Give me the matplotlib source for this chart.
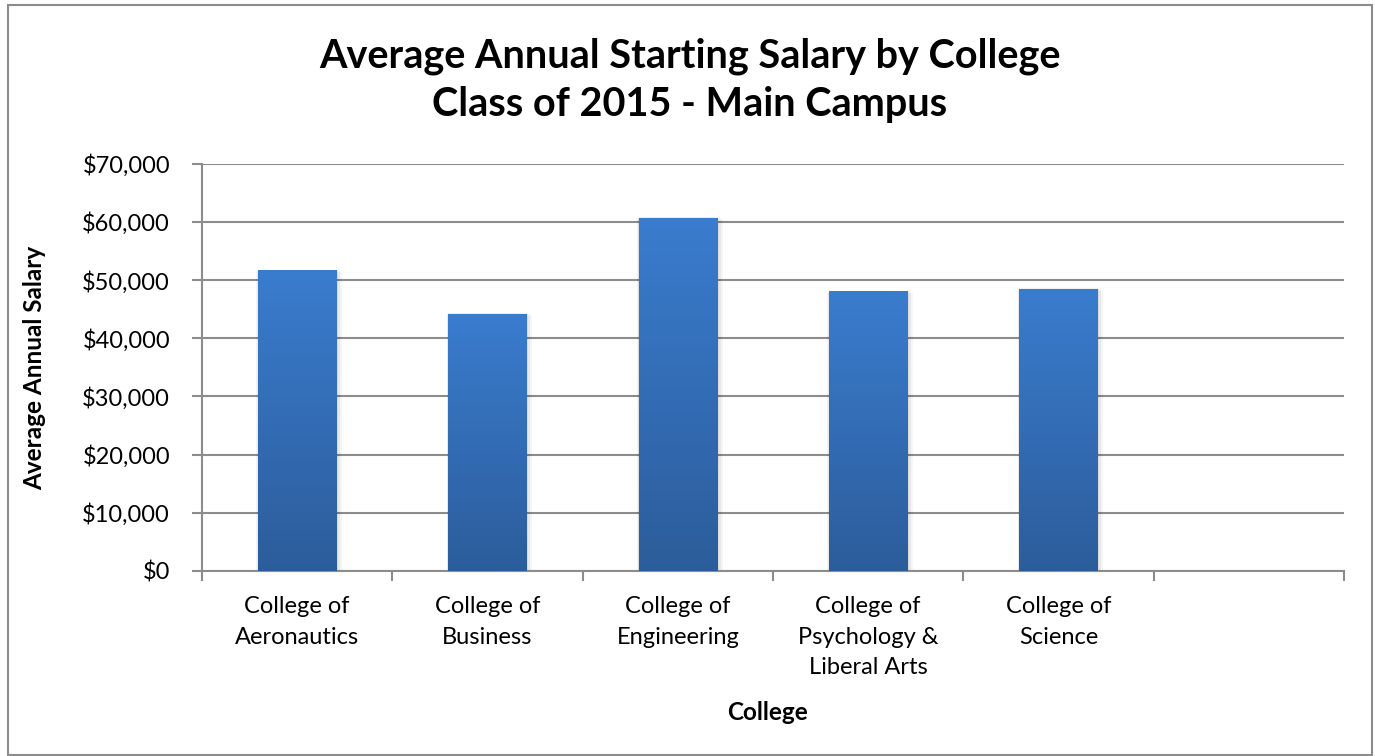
import numpy as np
import matplotlib
matplotlib.use("Agg")
import matplotlib.pyplot as plt
from matplotlib.patches import Rectangle
from matplotlib.ticker import FuncFormatter, MultipleLocator
from matplotlib.colors import LinearSegmentedColormap

categories = ["College of\nAeronautics", "College of\nBusiness", "College of\nEngineering",
              "College of\nPsychology &\nLiberal Arts", "College of\nScience", ""]
salaries = [51700, 44200, 60700, 48100, 48500]

title = "Average Annual Starting Salary by College\nClass of 2015 - Main Campus"
xlabel = "College"
ylabel = "Average Annual Salary"

FONT = ["Lato", "DejaVu Sans"]
plt.rcParams['font.family'] = FONT

fig = plt.figure(figsize=(13.75, 7.56), dpi=100)
fig.patch.set_facecolor("white")
# outer border
fig.add_artist(Rectangle((8/1375, 1/756), 1364/1375, 750/756, transform=fig.transFigure,
                         fill=False, edgecolor="#8c8c8c", linewidth=1.5))

ax = fig.add_axes([202/1375, 1-571/756, (1344-202)/1375, (571-163.7)/756])
n = len(categories)

ax.yaxis.set_major_locator(MultipleLocator(10000))
ax.yaxis.set_major_formatter(FuncFormatter(lambda v, p: f"${int(v):,}"))
ax.grid(axis="y", color="#8c8c8c", linewidth=1.5)
ax.set_axisbelow(True)
for s in ["top", "right"]:
    ax.spines[s].set_visible(False)
for s in ["left", "bottom"]:
    ax.spines[s].set_color("#8c8c8c")
    ax.spines[s].set_linewidth(1.5)
ax.tick_params(axis="y", length=7, width=1.5, color="#8c8c8c", labelsize=17, pad=16)

# x ticks at category boundaries
ax.set_xticks(np.arange(-0.5, n, 1.0))
ax.set_xticklabels([])
ax.tick_params(axis="x", length=7, width=1.5, color="#8c8c8c")
for i, lab in enumerate(categories):
    ax.text(i, -0.062, lab, transform=ax.get_xaxis_transform(), ha="center", va="top",
            fontsize=17, linespacing=1.56)

cmap = LinearSegmentedColormap.from_list("g", ["#2c5d9b", "#3a7cce"])
width = 0.41
grad = np.linspace(0, 1, 256).reshape(-1, 1)
for i, v in enumerate(salaries):
    # soft shadow (offset to the right/bottom)
    for k, a in enumerate([0.06, 0.05, 0.04]):
        off = 0.01 * (k + 1)
        ax.add_patch(Rectangle((i - width/2 - off*0.3, 0), width + off*1.3, v - 200*(k+1) + 300,
                               facecolor="black", alpha=a, edgecolor="none", zorder=2))
    r = Rectangle((i - width/2, 0), width, v, facecolor="none", edgecolor="none", zorder=3)
    ax.add_patch(r)
    im = ax.imshow(grad, cmap=cmap, aspect="auto", origin="lower",
                   extent=(i - width/2, i + width/2, 0, v), zorder=3)
    im.set_clip_path(r)
ax.set_xlim(-0.5, n-0.5)
ax.set_ylim(0, 70000)

fig.text(0.5 + 80/1375, 1-712/756, xlabel, ha="center", va="center", fontsize=17.5, fontweight="bold")
fig.text(35/1375, 1-368/756, ylabel, ha="center", va="center", rotation=90,
         fontsize=17.5, fontweight="bold")
fig.text(690/1375, 1-80/756, title, ha="center", va="center", fontsize=28.5,
         fontweight="bold", linespacing=1.38)

fig.savefig("out.png", dpi=100)
